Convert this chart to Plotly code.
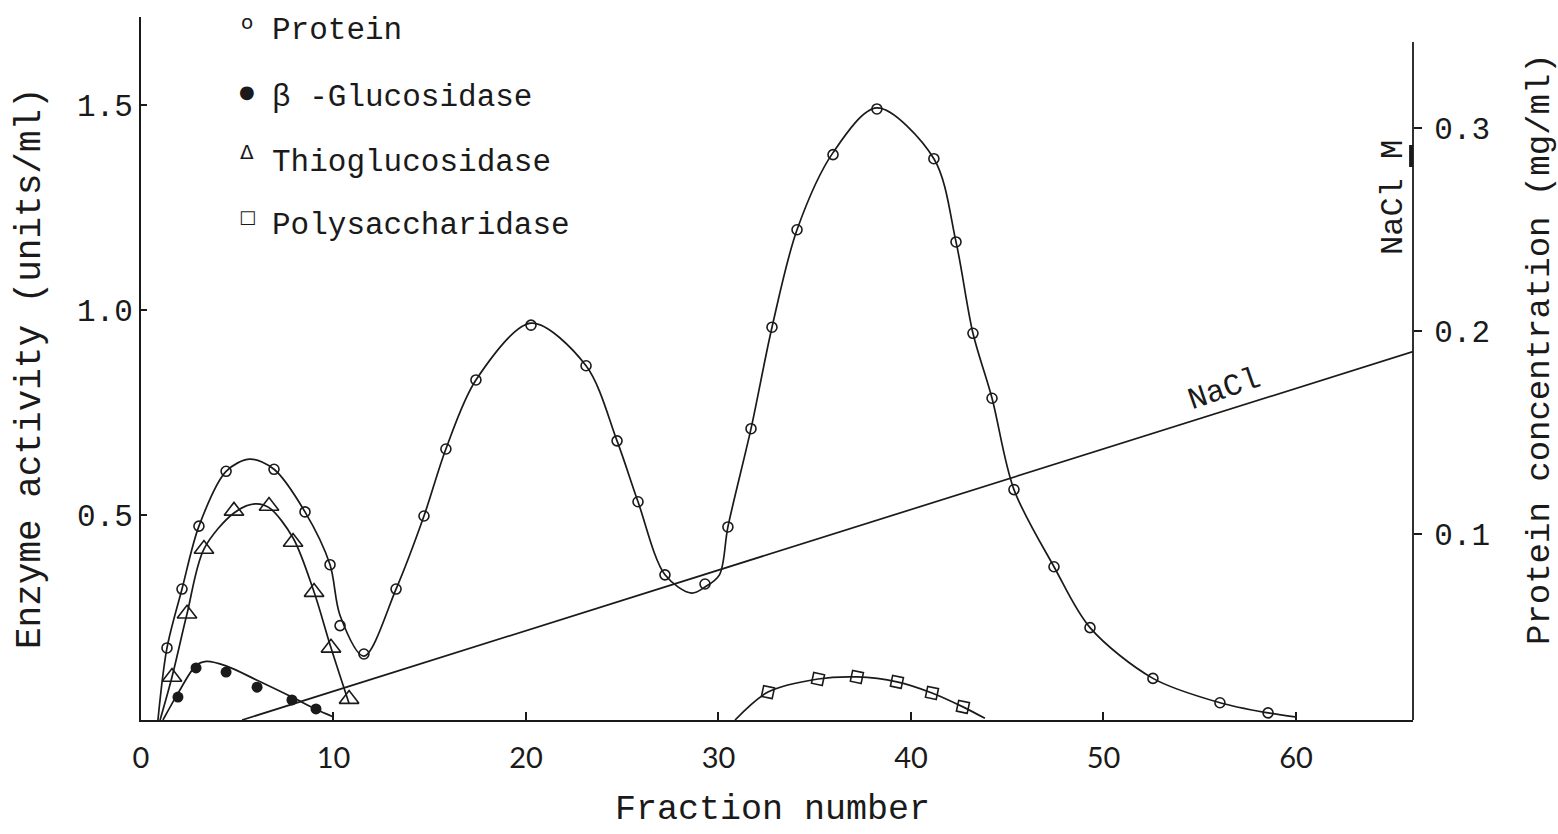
import plotly.graph_objects as go

# ---------------- data ----------------
# Protein concentration (mg/ml), right axis
protein_x = [1.35, 2.13, 3.01, 4.42, 6.91, 8.52, 9.82, 10.34, 11.58, 13.25, 14.70, 15.84,
             17.40, 20.26, 23.12, 24.73, 25.82, 27.22, 29.30, 30.49, 31.69, 32.78, 34.08,
             35.95, 38.23, 41.19, 42.34, 43.22, 44.21, 45.35, 47.43, 49.30, 52.57, 56.05, 58.55]
protein_y = [0.044, 0.073, 0.104, 0.131, 0.132, 0.111, 0.085, 0.055, 0.041, 0.073, 0.109, 0.142,
             0.176, 0.203, 0.183, 0.146, 0.116, 0.080, 0.0755, 0.1036, 0.152, 0.202, 0.250,
             0.287, 0.3095, 0.285, 0.244, 0.199, 0.167, 0.122, 0.084, 0.054, 0.029, 0.017, 0.012]
# smooth drawn curve through the protein points
protein_curve_x = [0.88, 1.35, 2.13, 3.01, 4.42, 5.66, 6.91, 8.52, 9.82, 10.34, 11.58, 13.25,
                   14.70, 15.84, 17.40, 20.26, 23.12, 24.73, 25.82, 27.22, 28.6, 29.30, 30.05,
                   30.49, 31.69, 32.78, 34.08, 35.95, 38.23, 41.19, 42.34, 43.22, 44.21, 45.35,
                   47.43, 49.30, 52.57, 56.05, 58.55, 59.95]
protein_curve_y = [0.0085, 0.044, 0.073, 0.104, 0.131, 0.137, 0.132, 0.111, 0.085, 0.060, 0.040,
                   0.073, 0.109, 0.142, 0.176, 0.204, 0.183, 0.146, 0.116, 0.080, 0.071, 0.074,
                   0.080, 0.1036, 0.152, 0.202, 0.250, 0.288, 0.310, 0.285, 0.244, 0.199, 0.167,
                   0.122, 0.084, 0.054, 0.029, 0.017, 0.012, 0.010]

# beta-Glucosidase (units/ml), left axis
bglu_x = [1.92, 2.86, 4.42, 6.03, 7.84, 9.09]
bglu_y = [0.056, 0.127, 0.117, 0.080, 0.049, 0.027]
bglu_curve_x = [1.14, 1.92, 2.86, 3.40, 4.42, 6.03, 7.84, 9.09, 9.97]
bglu_curve_y = [0.0, 0.065, 0.133, 0.143, 0.132, 0.097, 0.056, 0.026, 0.008]

# Thioglucosidase (units/ml), left axis
thio_x = [1.61, 2.39, 3.27, 4.83, 6.65, 7.90, 8.99, 9.87, 10.81]
thio_y = [0.105, 0.259, 0.417, 0.510, 0.522, 0.434, 0.312, 0.176, 0.051]
thio_curve_x = [0.99, 1.61, 2.39, 3.27, 4.83, 5.92, 6.65, 7.90, 8.99, 9.87, 10.81]
thio_curve_y = [0.0, 0.105, 0.259, 0.417, 0.505, 0.527, 0.518, 0.444, 0.312, 0.176, 0.040]

# Polysaccharidase (units/ml), left axis
poly_x = [32.57, 35.17, 37.19, 39.27, 41.09, 42.70]
poly_y = [0.068, 0.100, 0.105, 0.093, 0.066, 0.032]
poly_curve_x = [30.86, 32.57, 35.17, 37.19, 39.27, 41.09, 42.70, 43.84]
poly_curve_y = [0.0, 0.068, 0.100, 0.105, 0.093, 0.066, 0.032, 0.004]

# NaCl gradient (M), right axis
nacl_x = [5.25, 66.08]
nacl_y = [0.0085, 0.190]

x_ticks = [0, 10, 20, 30, 40, 50, 60]
y_left_ticks = [0.5, 1.0, 1.5]
y_left_text = ["0.5", "1.0", "1.5"]
y_right_ticks = [0.1, 0.2, 0.3]
y_right_text = ["0.1", "0.2", "0.3"]

legend_names = ["Protein", "\u03b2 -Glucosidase", "Thioglucosidase", "Polysaccharidase"]

# ---------------- figure ----------------
MONO = "Liberation Mono, Courier New, monospace"
INK = "#1a1a1a"
LW = 1.7

fig = go.Figure()

def curve(x, y, yaxis="y"):
    fig.add_trace(go.Scatter(x=x, y=y, mode="lines", yaxis=yaxis,
                             line=dict(color=INK, width=LW, shape="spline", smoothing=0.9),
                             showlegend=False, hoverinfo="skip"))

curve(protein_curve_x, protein_curve_y, "y2")
curve(thio_curve_x, thio_curve_y)
curve(bglu_curve_x, bglu_curve_y)
curve(poly_curve_x, poly_curve_y)
fig.add_trace(go.Scatter(x=nacl_x, y=nacl_y, mode="lines", yaxis="y2",
                         line=dict(color=INK, width=LW), showlegend=False))

fig.add_trace(go.Scatter(x=protein_x, y=protein_y, mode="markers", yaxis="y2", name=legend_names[0],
                         marker=dict(symbol="circle-open", size=10, color=INK, line=dict(width=1.6)),
                         showlegend=False))
fig.add_trace(go.Scatter(x=bglu_x, y=bglu_y, mode="markers", name=legend_names[1],
                         marker=dict(symbol="circle", size=11, color=INK), showlegend=False))
fig.add_trace(go.Scatter(x=thio_x, y=thio_y, mode="markers", name=legend_names[2],
                         marker=dict(symbol="triangle-up-open", size=17, color=INK, line=dict(width=1.6)),
                         showlegend=False))
fig.add_trace(go.Scatter(x=poly_x, y=poly_y, mode="markers", name=legend_names[3],
                         marker=dict(symbol="square-open", size=11, color=INK, angle=12,
                                     line=dict(width=1.6)),
                         showlegend=False))

annotations = []
# legend as text
leg_y = [30, 97, 162, 225]
leg_sym = ["o", "\u25cf", "\u0394", "\u25a1"]
leg_sym_y = [22, 92, 152, 217]
leg_sym_size = [20, 18, 20, 18]
for name, ly, s, sy, ss in zip(legend_names, leg_y, leg_sym, leg_sym_y, leg_sym_size):
    annotations.append(dict(xref="paper", yref="paper", x=(270 - 141) / 1272, y=(720 - ly) / 703,
                            text=name, showarrow=False, xanchor="left", yanchor="middle",
                            font=dict(family=MONO, size=31, color=INK)))
    annotations.append(dict(xref="paper", yref="paper", x=(247 - 141) / 1272, y=(720 - sy) / 703,
                            text=s, showarrow=False, xanchor="center", yanchor="middle",
                            font=dict(family="DejaVu Sans", size=ss, color=INK)))

# axis titles
annotations.append(dict(xref="paper", yref="paper", x=0, y=(720 - 368) / 703, xshift=-111,
                        text="Enzyme activity (units/ml)",
                        textangle=-90, showarrow=False, xanchor="center", yanchor="middle",
                        font=dict(family=MONO, size=36, color=INK)))
annotations.append(dict(xref="paper", yref="paper", x=1, y=(720 - 349) / 703, xshift=127,
                        text="Protein concentration (mg/ml)", textangle=-90, showarrow=False,
                        xanchor="center", yanchor="middle", font=dict(family=MONO, size=34, color=INK)))
annotations.append(dict(xref="paper", yref="paper", x=(772 - 141) / 1272, y=0, yshift=-90,
                        text="Fraction number", showarrow=False, xanchor="center", yanchor="middle",
                        font=dict(family=MONO, size=35, color=INK)))
annotations.append(dict(xref="paper", yref="paper", x=1, y=(720 - 198) / 703, xshift=-20,
                        text="NaCl M", textangle=-90, showarrow=False, xanchor="center", yanchor="middle",
                        font=dict(family=MONO, size=32, color=INK)))
annotations.append(dict(xref="paper", yref="paper", x=(1224 - 141) / 1272, y=(720 - 389) / 703,
                        text="NaCl", textangle=-19, showarrow=False, xanchor="center", yanchor="middle",
                        font=dict(family=MONO, size=31, color=INK)))

shapes = [
    # right axis line (starts lower than the left one)
    dict(type="line", xref="paper", yref="paper", x0=1, x1=1, y0=0, y1=(720 - 42) / 703,
         line=dict(color=INK, width=1.8)),
    # small bar next to "NaCl M"
    dict(type="line", xref="paper", yref="paper", x0=0.9985, x1=0.9985, y0=(720 - 167) / 703,
         y1=(720 - 145) / 703, line=dict(color=INK, width=4)),
]

fig.update_layout(
    width=1558, height=834,
    margin=dict(l=141, r=145, t=17, b=114),
    paper_bgcolor="white", plot_bgcolor="white",
    showlegend=False,
    annotations=annotations, shapes=shapes,
    xaxis=dict(range=[0, 66.08], tickvals=x_ticks, ticks="inside", ticklen=8, tickwidth=1.5,
               tickcolor=INK, showline=True, linecolor=INK, linewidth=1.8, showgrid=False,
               zeroline=False, ticklabelstandoff=11,
               tickfont=dict(family="Lato, Noto Sans, sans-serif", size=29, color=INK)),
    yaxis=dict(range=[0, 703 / 410], tickvals=y_left_ticks, ticktext=y_left_text, ticks="inside",
               ticklen=6, tickwidth=1.5, tickcolor=INK, showline=True, linecolor=INK, linewidth=1.8,
               showgrid=False, zeroline=False, ticklabelstandoff=0,
               tickfont=dict(family=MONO, size=31, color=INK)),
    yaxis2=dict(range=[0.0085, 0.3548], overlaying="y", side="right", tickvals=y_right_ticks,
                ticktext=y_right_text, ticks="outside", ticklen=8, tickwidth=1.5, tickcolor=INK,
                showline=False, showgrid=False, zeroline=False, ticklabelstandoff=6,
                tickfont=dict(family=MONO, size=31, color=INK)),
)

fig.write_html("out.html")
